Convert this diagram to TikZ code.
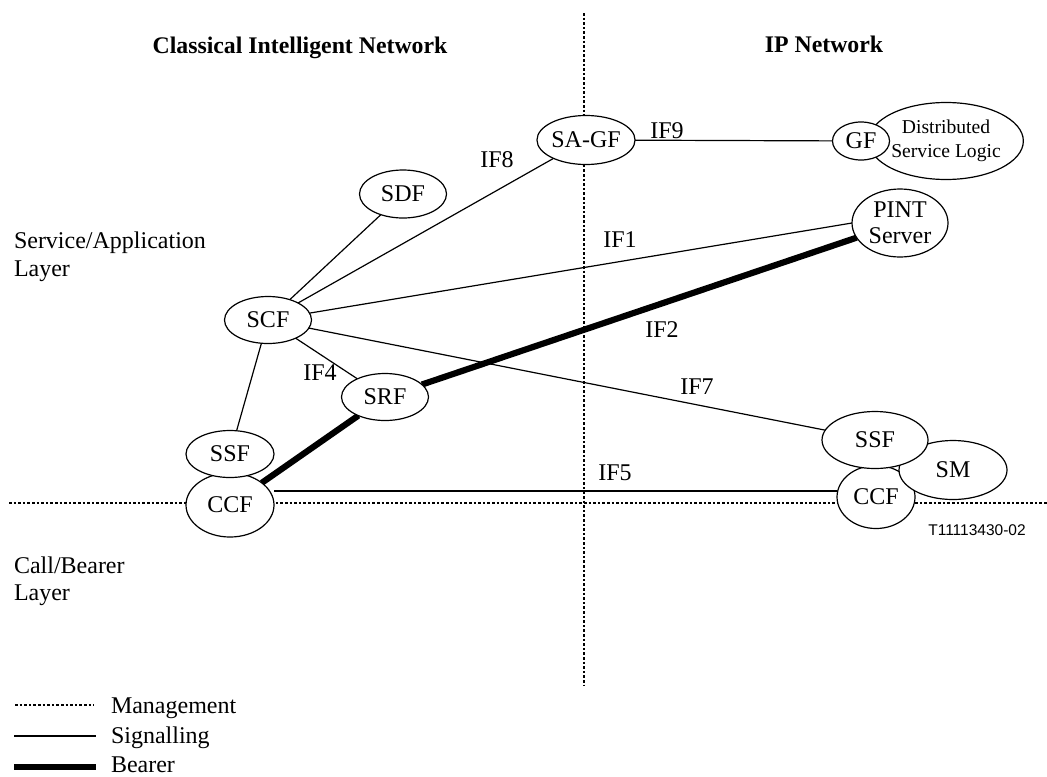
\documentclass[tikz,border=0pt]{standalone}
\usepackage{fontspec}
\setmainfont{Liberation Serif}
\newfontfamily\arialf{Liberation Sans}
\usetikzlibrary{shapes.geometric,backgrounds}
\begin{document}
\begin{tikzpicture}[x=0.5pt,y=-0.5pt,
  fn/.style={ellipse,draw,line width=0.6pt,fill=white,inner sep=0pt,outer sep=0pt,
    font=\fontsize{12}{13}\selectfont,align=center},
  lbl/.style={inner sep=0pt,outer sep=0pt,font=\fontsize{12}{14}\selectfont},
  ttl/.style={inner sep=0pt,outer sep=0pt,font=\fontsize{11.9}{14}\selectfont\bfseries},
  sig/.style={line width=0.6pt},
  sigb/.style={line width=1pt},
  bearer/.style={line width=3.1pt},
  mgmt/.style={line width=1.2pt,dash pattern=on 1.3pt off 1pt}]
\useasboundingbox (0,0) rectangle (1047,776);

% titles and layer labels
\node[ttl,anchor=base] (tcin) at (300,53) {Classical Intelligent Network};
\node[ttl,anchor=base] (tip) at (824,52) {IP Network};
\node[lbl,anchor=base west] (sal1) at (14,248) {Service/Application};
\node[lbl,anchor=base west] (sal2) at (14,276) {Layer};
\node[lbl,anchor=base west] (cbl1) at (14,573) {Call/Bearer};
\node[lbl,anchor=base west] (cbl2) at (14,600) {Layer};

% functional entities
\node[fn,minimum width=44pt,minimum height=32pt] (CCFl) at (230,505) {CCF};
\node[fn,minimum width=44pt,minimum height=23.5pt] (SSFl) at (230,454) {SSF};
\node[fn,minimum width=42.5pt,minimum height=24.5pt] (SAGF) at (586,140) {SA-GF};
\node[fn,minimum width=43.5pt,minimum height=24pt] (SDF) at (403,194) {SDF};
\node[fn,minimum width=43.5pt,minimum height=23.5pt] (SCF) at (268,320) {SCF};
\node[fn,minimum width=43.5pt,minimum height=23.5pt] (SRF) at (385,397) {SRF};
\node[fn,minimum width=69.5pt,minimum height=38.5pt,font=\fontsize{9.8}{12}\selectfont] (DSL) at (946,141) {Distributed\\Service Logic};
\node[fn,minimum width=28.5pt,minimum height=19pt] (GF) at (861,141) {GF};
\node[fn,minimum width=48pt,minimum height=34pt] (PINT) at (900,223) {PINT\\Server};
\node[fn,minimum width=39pt,minimum height=31.5pt] (CCFr) at (876,497) {CCF};
\node[fn,minimum width=54pt,minimum height=29.5pt] (SM) at (953,470) {SM};
\node[fn,minimum width=53pt,minimum height=28.5pt] (SSFr) at (875,440) {SSF};

\coordinate (vtop) at (584,13);
\coordinate (vbot) at (584,686);
\coordinate (hleft) at (9,503);
\coordinate (hright) at (1047,503);
\coordinate (if5) at (0,491);

\begin{pgfonlayer}{background}
  \draw[mgmt] (vtop) -- (vbot);
  \draw[mgmt] (hleft) -- (hright);
  \draw[sig] (SCF) -- (SDF);
  \draw[sig] (SCF) -- (SAGF);
  \draw[sig] (SCF) -- (PINT.west);
  \draw[sig] (SCF) -- (SSFr);
  \draw[sig] (SCF) -- (SRF);
  \draw[sig] (SCF) -- (SSFl);
  \draw[sig] (SAGF) -- (GF);
  \draw[sigb] (CCFl.east |- if5) -- (CCFr.west |- if5);
  \draw[bearer] (CCFl) -- (SRF);
  \draw[bearer] (SRF) -- (PINT);
\end{pgfonlayer}

% interface labels
\node[lbl] (lif8) at (497,160) {IF8};
\node[lbl] (lif9) at (667,131) {IF9};
\node[lbl] (lif1) at (620,240) {IF1};
\node[lbl] (lif2) at (662,330) {IF2};
\node[lbl] (lif4) at (320,373) {IF4};
\node[lbl] (lif7) at (697,387) {IF7};
\node[lbl] (lif5) at (615,473) {IF5};

\node[inner sep=0pt,font=\fontsize{7.75}{9}\arialf] (ref) at (977,530) {T11113430-02};

% legend
\coordinate (lm1) at (15,705); \coordinate (lm2) at (94,705);
\coordinate (ls1) at (14,736); \coordinate (ls2) at (96,736);
\coordinate (lb1) at (14,767); \coordinate (lb2) at (96,767);
\draw[mgmt] (lm1) -- (lm2);
\draw[sigb] (ls1) -- (ls2);
\draw[bearer] (lb1) -- (lb2);
\node[lbl,anchor=base west] (lmt) at (111,713) {Management};
\node[lbl,anchor=base west] (lst) at (111,743) {Signalling};
\node[lbl,anchor=base west] (lbt) at (111,772) {Bearer};
\end{tikzpicture}
\end{document}
